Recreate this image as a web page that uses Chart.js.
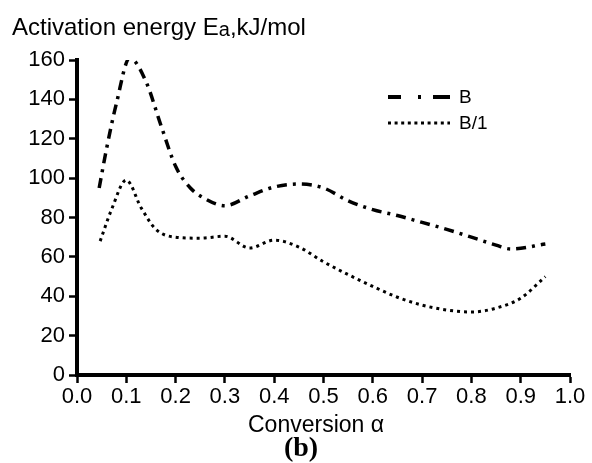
<!DOCTYPE html>
<html>
<head>
<meta charset="utf-8">
<script src="https://cdn.jsdelivr.net/npm/chart.js@4.4.1/dist/chart.umd.min.js"></script>
<style>
  html, body { margin: 0; padding: 0; background: #fff; }
  #wrap { width: 592px; height: 463px; position: relative; }
</style>
</head>
<body>
<div id="wrap"><canvas id="chart" width="592" height="463"></canvas></div>
<script>
// conversion values and activation energies (kJ/mol)
const alphaB = [0.045, 0.06, 0.08, 0.107, 0.14, 0.17, 0.2, 0.23, 0.26, 0.3, 0.35, 0.4, 0.45, 0.5, 0.55, 0.6, 0.65, 0.7, 0.75, 0.8, 0.85, 0.88, 0.95];
const energyB = [95, 115, 138, 161, 149, 127, 106, 95, 89.5, 86, 91, 95.5, 97, 95, 88.5, 84, 81, 77.5, 74, 70, 66, 64, 66.5];

const alphaB1 = [0.047, 0.07, 0.1, 0.13, 0.16, 0.2, 0.25, 0.3, 0.35, 0.4, 0.45, 0.5, 0.55, 0.6, 0.65, 0.7, 0.75, 0.8, 0.85, 0.9, 0.95];
const energyB1 = [68, 84, 99, 85, 74, 70, 69.5, 70.5, 64.5, 68.5, 65, 57.5, 51, 45, 39.5, 35.5, 33, 32, 34, 39, 50];

const seriesNames = ['B', 'B/1'];
const yTicks = [0, 20, 40, 60, 80, 100, 120, 140, 160];

const toPoints = (xs, ys) => xs.map((x, i) => ({ x: x, y: ys[i] }));

const sans = '"Liberation Sans", Arial, sans-serif';

// titles and the hand-drawn style legend
const extraText = {
    id: 'extraText',
    afterDraw(chart) {
        const ctx = chart.ctx;
        ctx.save();
        ctx.fillStyle = '#000';
        ctx.textBaseline = 'alphabetic';

        // y title
        ctx.textAlign = 'left';
        ctx.font = '24px ' + sans;
        let x = 12;
        const base = 35;
        const part1 = 'Activation energy E';
        ctx.fillText(part1, x, base);
        x += ctx.measureText(part1).width;
        ctx.font = '20px ' + sans;
        ctx.fillText('a', x, base + 1);
        x += ctx.measureText('a').width;
        ctx.font = '24px ' + sans;
        ctx.fillText(',kJ/mol', x, base);

        // x title
        ctx.textAlign = 'center';
        ctx.font = '23px ' + sans;
        ctx.fillText('Conversion \u03b1', 316, 432);

        ctx.font = 'bold 28px "Liberation Serif", "Times New Roman", serif';
        ctx.fillText('(b)', 301, 456);

        // legend
        const rows = [
            { y: 97, dash: [13, 17, 3, 12, 17, 100], width: 4 },
            { y: 123, dash: [3, 3.6], width: 3 }
        ];
        rows.forEach((r, i) => {
            ctx.beginPath();
            ctx.setLineDash(r.dash);
            ctx.lineWidth = r.width;
            ctx.strokeStyle = '#000';
            ctx.moveTo(388, r.y);
            ctx.lineTo(450, r.y);
            ctx.stroke();
            ctx.setLineDash([]);
            ctx.textAlign = 'left';
            ctx.textBaseline = 'middle';
            ctx.font = '19px ' + sans;
            ctx.fillText(seriesNames[i], 459, r.y + 1);
        });
        ctx.restore();
    }
};

const ctx = document.getElementById('chart').getContext('2d');
new Chart(ctx, {
    type: 'line',
    plugins: [extraText],
    data: {
        datasets: [{
            label: seriesNames[0],
            data: toPoints(alphaB, energyB),
            borderColor: '#000',
            borderWidth: 3.5,
            borderDash: [10, 6, 3, 6],
            pointRadius: 0,
            cubicInterpolationMode: 'monotone',
            fill: false
        }, {
            label: seriesNames[1],
            data: toPoints(alphaB1, energyB1),
            borderColor: '#000',
            borderWidth: 3,
            borderDash: [3, 4],
            pointRadius: 0,
            cubicInterpolationMode: 'monotone',
            fill: false
        }]
    },
    options: {
        responsive: false,
        animation: false,
        layout: { padding: { left: 0, right: 22, top: 60, bottom: 0 } },
        plugins: {
            legend: { display: false },
            tooltip: { enabled: false },
            title: { display: false }
        },
        scales: {
            x: {
                type: 'linear',
                min: 0,
                max: 1,
                afterFit: (scale) => { scale.height = 88; },
                afterBuildTicks: (scale) => {
                    scale.ticks = [];
                    for (let i = 0; i <= 10; i++) scale.ticks.push({ value: i / 10 });
                },
                ticks: {
                    color: '#000',
                    font: { size: 22, family: sans },
                    padding: 1,
                    maxRotation: 0,
                    callback: (v) => Number(v).toFixed(1)
                },
                grid: {
                    drawOnChartArea: false,
                    drawTicks: true,
                    tickLength: 8,
                    tickWidth: 2.5,
                    tickColor: '#000'
                },
                border: { display: true, color: '#000', width: 4 }
            },
            y: {
                min: 0,
                max: 160,
                afterFit: (scale) => { scale.width = 77; },
                afterBuildTicks: (scale) => {
                    scale.ticks = yTicks.map(v => ({ value: v }));
                },
                ticks: {
                    color: '#000',
                    font: { size: 22, family: sans },
                    padding: 4
                },
                grid: {
                    drawOnChartArea: false,
                    drawTicks: true,
                    tickLength: 8,
                    tickWidth: 2.5,
                    tickColor: '#000'
                },
                border: { display: true, color: '#000', width: 4 }
            }
        }
    }
});
</script>
</body>
</html>
